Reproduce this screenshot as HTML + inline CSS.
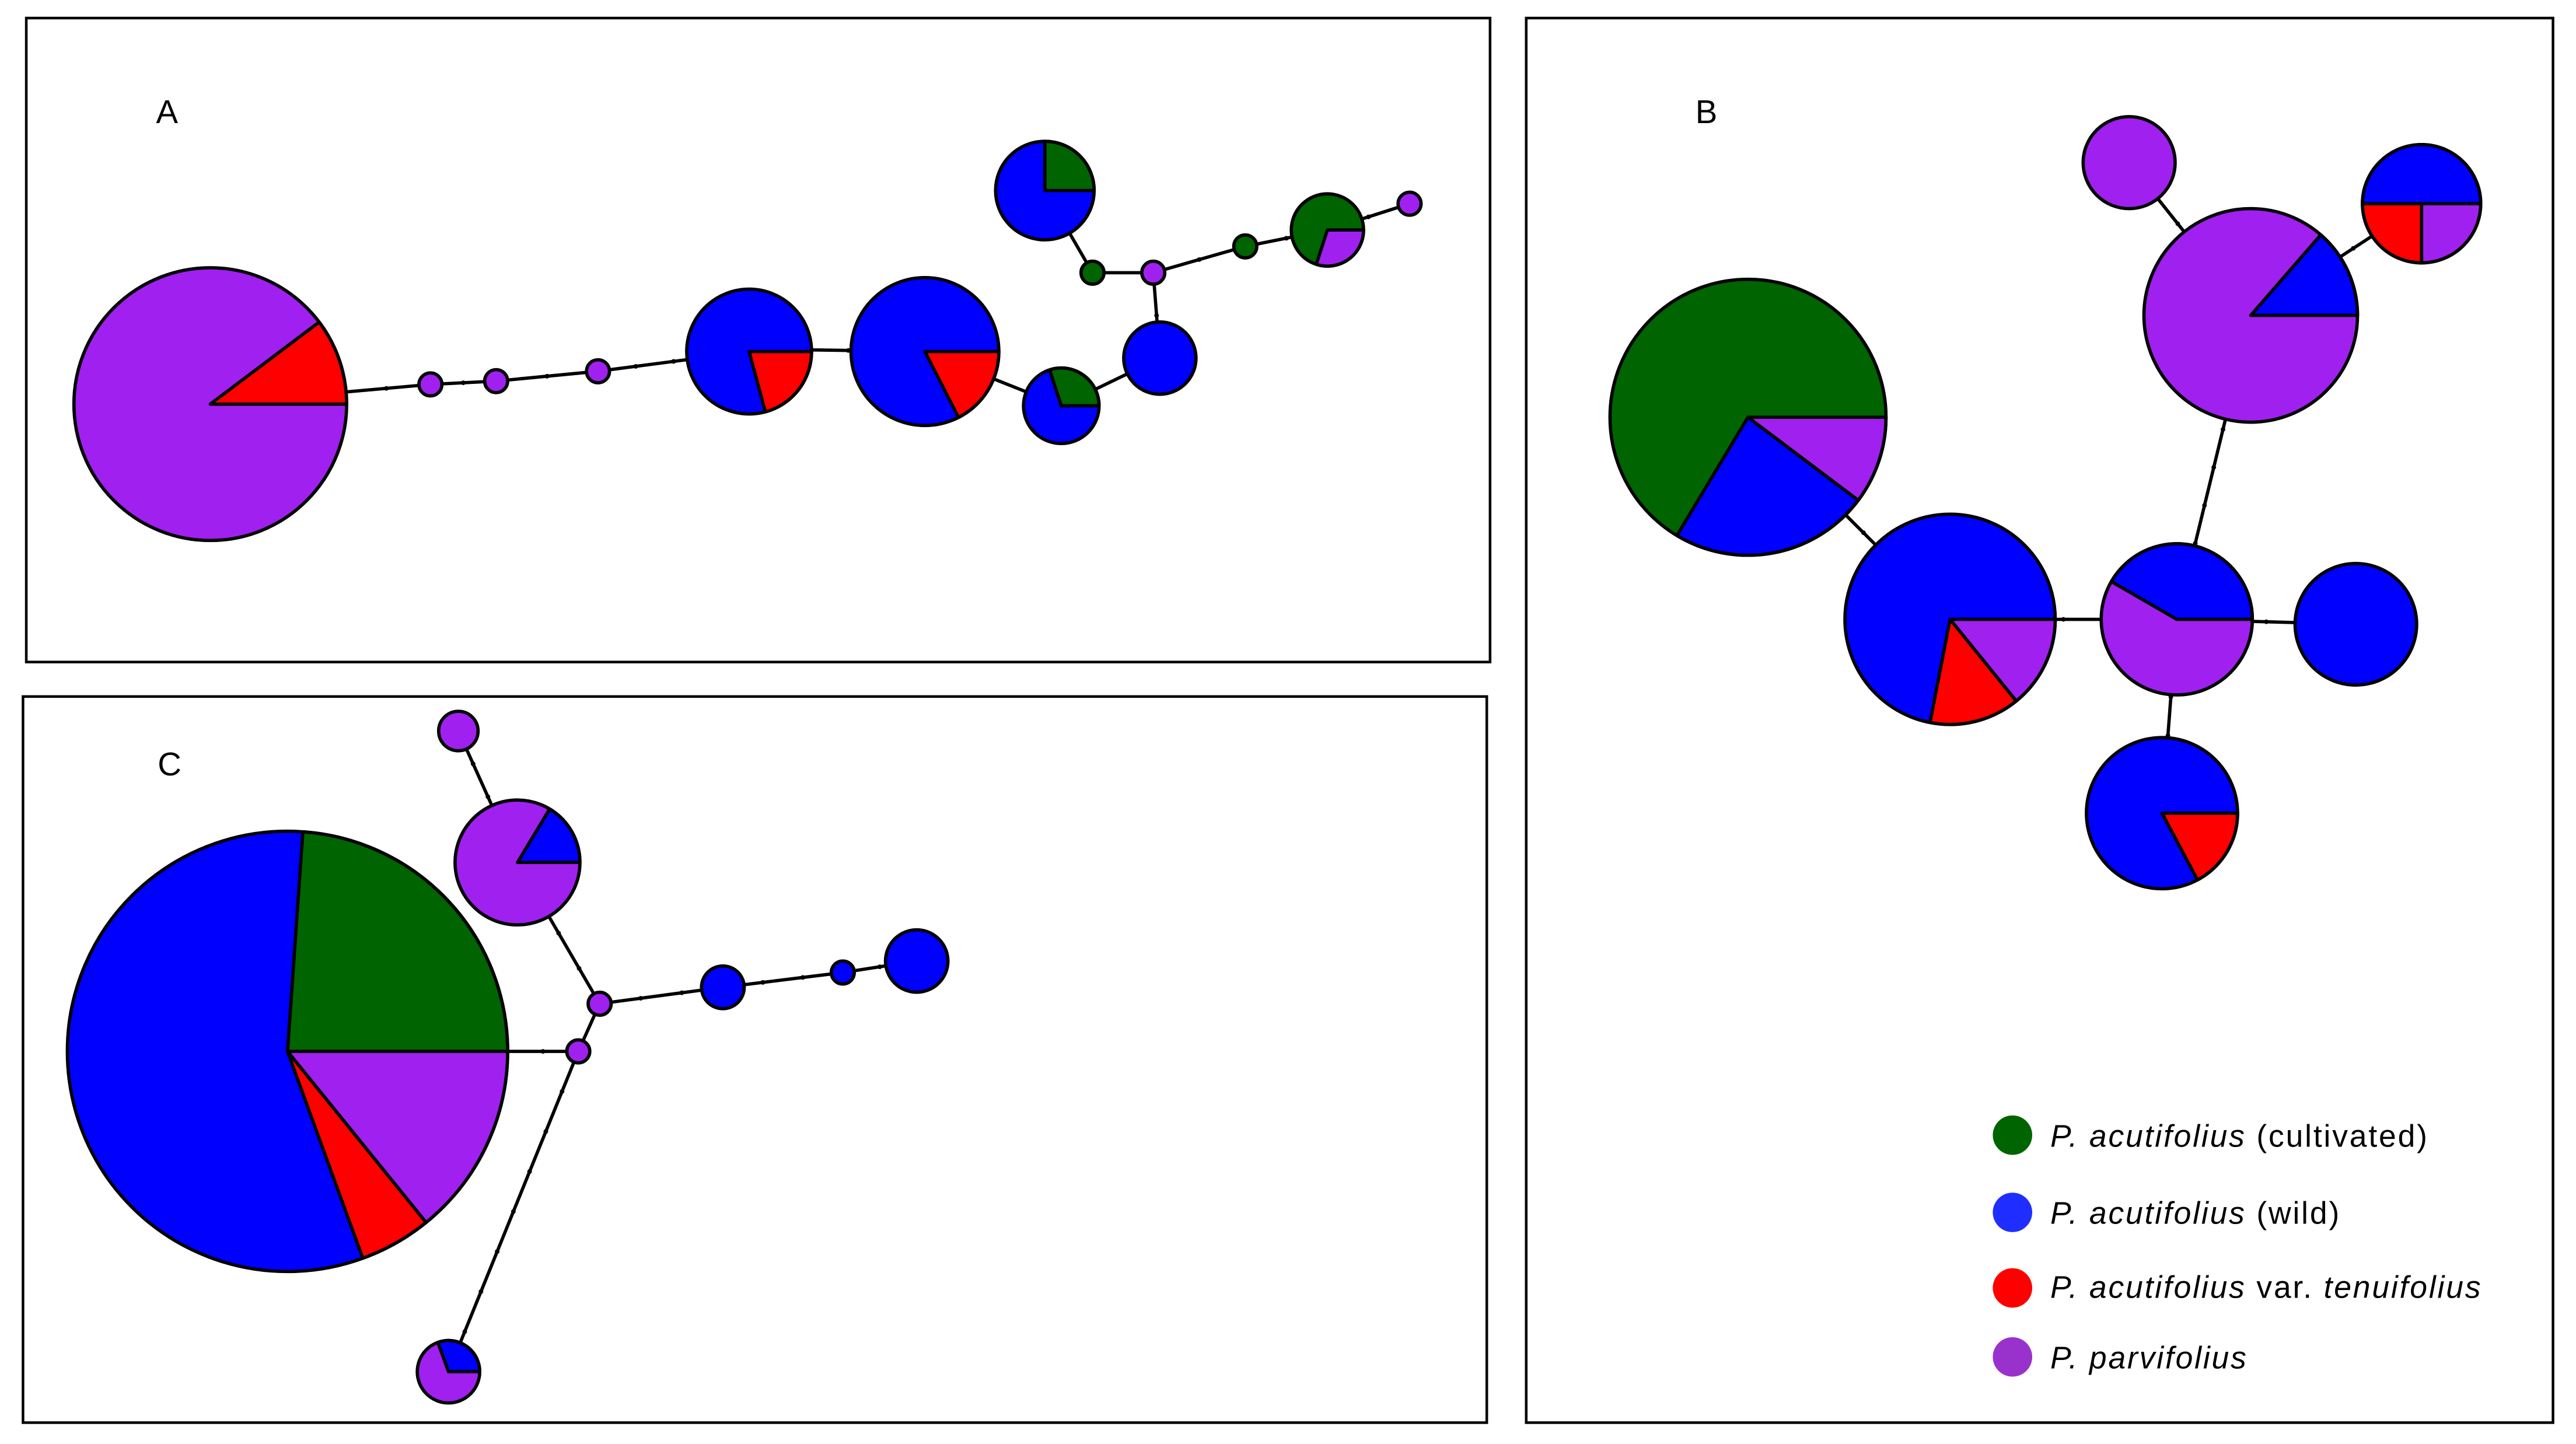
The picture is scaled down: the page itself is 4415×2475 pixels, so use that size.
<!DOCTYPE html>
<html><head><meta charset="utf-8"><style>
html,body{margin:0;padding:0;background:#fff;}
svg{display:block;}
</style></head><body>
<svg id="s" width="4415" height="2475" viewBox="0 0 1568 879" preserveAspectRatio="none" xmlns="http://www.w3.org/2000/svg">
<rect x="16" y="11" width="891" height="392" fill="none" stroke="#000" stroke-width="1.6"/>
<rect x="929" y="11" width="625" height="855" fill="none" stroke="#000" stroke-width="1.6"/>
<rect x="14" y="424" width="891" height="442" fill="none" stroke="#000" stroke-width="1.6"/>
<g id="edges" stroke="#000" stroke-width="2" fill="none"></g>
<g id="pies"></g>
<g font-family="Liberation Sans, sans-serif" font-size="20" fill="#000">
<text x="95" y="75">A</text>
<text x="1032" y="75">B</text>
<text x="96" y="472">C</text>
</g>
<g font-family="Liberation Sans, sans-serif" font-size="19" fill="#000" letter-spacing="1">
<circle cx="1225" cy="691" r="12" fill="#006400"/>
<circle cx="1225" cy="738" r="12" fill="#1f2eff"/>
<circle cx="1225" cy="784" r="12" fill="#ff0000"/>
<circle cx="1225" cy="826" r="12" fill="#9932cc"/>
<text x="1248" y="698"><tspan font-style="italic">P. acutifolius</tspan> (cultivated)</text>
<text x="1248" y="745"><tspan font-style="italic">P. acutifolius</tspan> (wild)</text>
<text x="1248" y="790"><tspan font-style="italic">P. acutifolius</tspan> var. <tspan font-style="italic">tenuifolius</tspan></text>
<text x="1248" y="833"><tspan font-style="italic">P. parvifolius</tspan></text>
</g>
</svg>
<script>
var NS="http://www.w3.org/2000/svg";
var P="#a020f0",B="#0000ff",R="#ff0000",G="#006400";
var E=[
[128,246,262,234],[262,234,302,232],[302,232,364,226],[364,226,456,214],[493,213,563,214],
[563,214,646,247],[646,247,706,218],[706,218,702,166],[702,166,665,166],[665,166,636,116],
[702,166,758,150],[758,150,808,140],[808,140,858,124],
[1064,254,1187,377],[1187,377,1325,377],[1325,377,1434,380],[1325,377,1316,495],[1325,377,1370,192],
[1370,192,1296,99],[1370,192,1474,124],
[309,640,352,640],[352,640,365,611],[365,611,315,525],[315,525,279,445],[365,611,440,601],
[440,601,513,592],[513,592,558,585],[352,640,273,835]];
var eg=document.getElementById("edges");
E.forEach(function(e){var l=document.createElementNS(NS,"line");l.setAttribute("x1",e[0]);l.setAttribute("y1",e[1]);l.setAttribute("x2",e[2]);l.setAttribute("y2",e[3]);eg.appendChild(l);
var n=Math.max(1,Math.round(Math.hypot(e[2]-e[0],e[3]-e[1])/25));for(var i=1;i<n;i++){var c=document.createElementNS(NS,"circle");c.setAttribute("cx",e[0]+(e[2]-e[0])*i/n);c.setAttribute("cy",e[1]+(e[3]-e[1])*i/n);c.setAttribute("r",1.4);c.setAttribute("fill","#000");c.setAttribute("stroke","none");eg.appendChild(c);}});
var pg=document.getElementById("pies");
function pie(cx,cy,r,sl,base){
 var c=document.createElementNS(NS,"circle");c.setAttribute("cx",cx);c.setAttribute("cy",cy);c.setAttribute("r",r);c.setAttribute("fill",base);c.setAttribute("stroke","#000");c.setAttribute("stroke-width",2);pg.appendChild(c);
 sl.forEach(function(s){var a0=s[0]*Math.PI/180,a1=s[1]*Math.PI/180;
 var x0=cx+r*Math.cos(a0),y0=cy+r*Math.sin(a0),x1=cx+r*Math.cos(a1),y1=cy+r*Math.sin(a1);
 var lg=(s[1]-s[0])>180?1:0;var p=document.createElementNS(NS,"path");
 p.setAttribute("d","M"+cx+","+cy+" L"+x0+","+y0+" A"+r+","+r+" 0 "+lg+" 1 "+x1+","+y1+" Z");
 p.setAttribute("fill",s[2]);p.setAttribute("stroke","#000");p.setAttribute("stroke-width",2);p.setAttribute("stroke-linejoin","round");pg.appendChild(p);});
}
pie(128,246,83,[[-37,0,R]],P);
pie(262,234,7,[],P);pie(302,232,7,[],P);pie(364,226,7,[],P);
pie(456,214,38,[[0,75,R]],B);
pie(563,214,45,[[0,63,R]],B);
pie(646,247,23,[[-108,0,G]],B);
pie(706,218,22,[],B);
pie(636,116,30,[[-90,0,G]],B);
pie(665,166,7,[],G);pie(702,166,7,[],P);pie(758,150,7,[],G);
pie(808,140,22,[[0,108,P]],G);
pie(858,124,7,[],P);
pie(1064,254,84,[[0,37,P],[37,121,B]],G);
pie(1187,377,64,[[0,51,P],[51,101,R]],B);
pie(1325,377,46,[[-150,0,B]],P);
pie(1434,380,37,[],B);
pie(1316,495,46,[[0,62,R]],B);
pie(1370,192,65,[[-49,0,B]],P);
pie(1296,99,28,[],P);
pie(1474,124,36,[[180,360,B],[90,180,R],[0,90,P]],P);
pie(175,640,134,[[-86,0,G],[0,51,P],[51,70,R]],B);
pie(279,445,12,[],P);
pie(315,525,38,[[-59,0,B]],P);
pie(365,611,7,[],P);pie(352,640,7,[],P);
pie(440,601,13,[],B);pie(513,592,7,[],B);pie(558,585,19,[],B);
pie(273,835,19,[[-110,0,B]],P);
</script>
</body></html>
